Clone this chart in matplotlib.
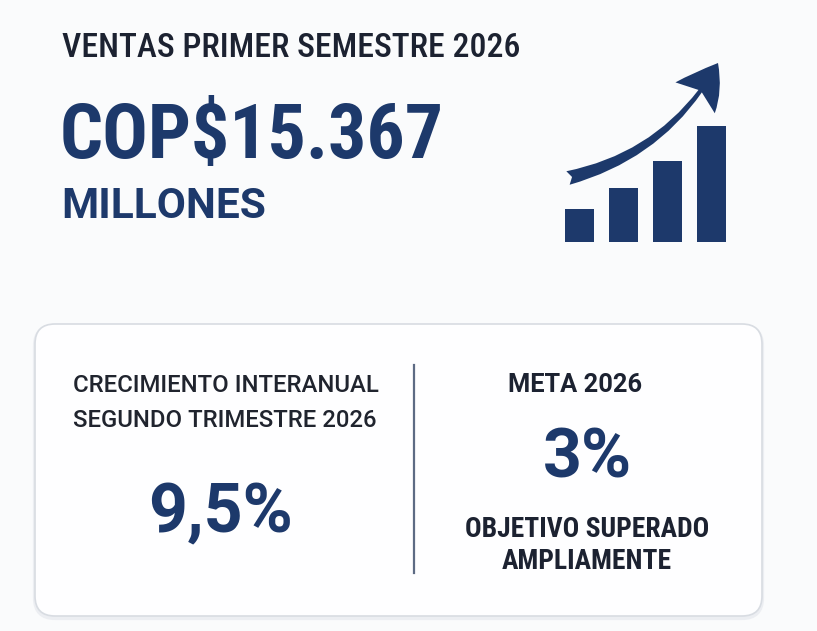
import matplotlib
matplotlib.use('Agg')
import matplotlib.pyplot as plt
from matplotlib.patches import FancyBboxPatch, FancyArrowPatch

# Data / texts
title = 'VENTAS PRIMER SEMESTRE 2026'
ventas_valor = 'COP$15.367'
ventas_unidad = 'MILLONES'
crec_label = ['CRECIMIENTO INTERANUAL', 'SEGUNDO TRIMESTRE 2026']
crec_valor = '9,5%'
meta_label = 'META 2026'
meta_valor = '3%'
meta_nota = ['OBJETIVO SUPERADO', 'AMPLIAMENTE']
icon_bars = [33, 54, 81, 116]   # relative heights of the little growth icon

NAVY = '#1d396b'
DARK = '#1c2231'
COND = ['Roboto Condensed', 'DejaVu Sans']
REG = ['Roboto', 'DejaVu Sans']

W, H = 817, 631
fig = plt.figure(figsize=(W / 100, H / 100), dpi=100)
fig.patch.set_facecolor('#fafbfc')

# main axes in pixel units (y grows downward)
ax = fig.add_axes([0, 0, 1, 1])
ax.set_xlim(0, W)
ax.set_ylim(H, 0)
ax.axis('off')

# header
ax.text(62, 57, title, fontsize=24.3, fontweight=500, color=DARK, family=COND, va='baseline')
ax.text(60, 158, ventas_valor, fontsize=54.5, fontweight='bold', color=NAVY, family=COND, va='baseline')
ax.text(61, 218, ventas_unidad, fontsize=30.5, fontweight='bold', color=NAVY, family=REG, va='baseline')

# card
shadow = FancyBboxPatch((35, 326), 727, 292, boxstyle='round,pad=0,rounding_size=20',
                        fc='none', ec='#eceef2', lw=3, zorder=1)
ax.add_patch(shadow)
card = FancyBboxPatch((35, 324), 727, 292, boxstyle='round,pad=0,rounding_size=20',
                      fc='#fefeff', ec='#d8dce2', lw=1.2, zorder=2)
ax.add_patch(card)
ax.plot([414, 414], [365, 573], color='#5d6b84', lw=1.6, zorder=3)

# left column
ax.text(73, 392, crec_label[0], fontsize=17.2, fontweight=500, color='#20242e', family=REG, va='baseline', zorder=4)
ax.text(73, 427, crec_label[1], fontsize=17.2, fontweight=500, color='#20242e', family=REG, va='baseline', zorder=4)
ax.text(221, 532, crec_valor, fontsize=49, fontweight='bold', color=NAVY, family=REG,
        ha='center', va='baseline', zorder=4)

# right column
ax.text(575, 392, meta_label, fontsize=18.3, fontweight='bold', color=DARK, family=REG,
        ha='center', va='baseline', zorder=4)
ax.text(587, 477, meta_valor, fontsize=49, fontweight='bold', color=NAVY, family=REG,
        ha='center', va='baseline', zorder=4)
ax.text(587, 537, meta_nota[0], fontsize=19.8, fontweight='bold', color=DARK, family=COND,
        ha='center', va='baseline', zorder=4)
ax.text(587, 569, meta_nota[1], fontsize=19.8, fontweight='bold', color=DARK, family=COND,
        ha='center', va='baseline', zorder=4)

# growth icon
icon = fig.add_axes([560 / W, (H - 242) / H, 172 / W, 184 / H])
icon.set_xlim(0, 172)
icon.set_ylim(0, 184)
icon.axis('off')
icon.patch.set_alpha(0)
icon.bar([19.5 + 44 * i for i in range(len(icon_bars))], icon_bars, width=29, color=NAVY)
arrow = FancyArrowPatch((8, 64), (158, 179), connectionstyle='arc3,rad=0.22',
                        arrowstyle='fancy,head_length=0.6,head_width=0.72,tail_width=0.2',
                        mutation_scale=50, color=NAVY, shrinkA=0, shrinkB=0, lw=0)
icon.add_patch(arrow)

fig.savefig('out.png', dpi=100, facecolor=fig.get_facecolor())
